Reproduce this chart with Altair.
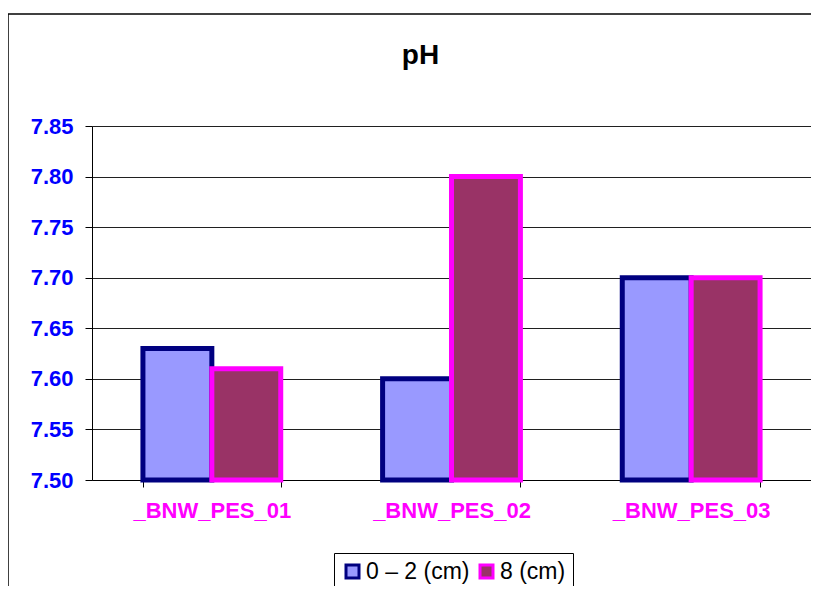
import altair as alt
import pandas as pd

sites = ["_BNW_PES_01", "_BNW_PES_02", "_BNW_PES_03"]
series = ["0 – 2 (cm)", "8 (cm)"]
vals_0_2 = [7.63, 7.60, 7.70]
vals_8 = [7.61, 7.80, 7.70]
y_ticks = [7.50, 7.55, 7.60, 7.65, 7.70, 7.75, 7.80, 7.85]

rows = []
for i, s in enumerate(sites):
    rows.append({"site": s, "series": series[0], "pH": vals_0_2[i]})
    rows.append({"site": s, "series": series[1], "pH": vals_8[i]})
df = pd.DataFrame(rows)

FONT = "Liberation Sans"

bars = alt.Chart(df).mark_bar(strokeWidth=5, strokeJoin="miter").encode(
    x=alt.X("site:N", sort=sites, title=None,
            scale=alt.Scale(paddingInner=0.425, paddingOuter=0.2125),
            axis=alt.Axis(labelAngle=0, labelColor="#FF00FF", labelFont=FONT,
                          labelFontSize=22, labelFontWeight="bold",
                          labelPadding=13, tickBand="extent", tickSize=7,
                          tickColor="black", domainColor="black", grid=False)),
    xOffset=alt.XOffset("series:N", sort=series,
                        scale=alt.Scale(paddingInner=0, paddingOuter=0)),
    y=alt.Y("pH:Q", title=None,
            scale=alt.Scale(domain=[7.5, 7.85], zero=False, nice=False),
            axis=alt.Axis(values=y_ticks, format=".2f", labelColor="#0000FF",
                          labelFont=FONT, labelFontSize=22, labelFontWeight="bold",
                          labelPadding=12, tickSize=7, tickColor="black",
                          domainColor="black", grid=True, gridColor="#202020",
                          gridWidth=1)),
    y2=alt.datum(7.5),
    fill=alt.Color("series:N", sort=series,
                   scale=alt.Scale(domain=series, range=["#9999FF", "#993366"]),
                   legend=alt.Legend(title=None, orient="none", legendX=242, legendY=427,
                                     direction="horizontal", symbolType="square",
                                     symbolSize=169, symbolStrokeWidth=3,
                                     labelFont=FONT, labelFontSize=23, labelColor="black",
                                     strokeColor="black", padding=7, columnPadding=4,
                                     labelOffset=2)),
    stroke=alt.Stroke("series:N", sort=series,
                      scale=alt.Scale(domain=series, range=["#000080", "#FF00FF"]),
                      legend=None),
)

frame_data = alt.Data(values=[{"a": 1}])
left_border = alt.Chart(frame_data).mark_rule(color="black", strokeWidth=1.5).encode(
    x=alt.value(-84), y=alt.value(-112), y2=alt.value(470))
top_border = alt.Chart(frame_data).mark_rule(color="black", strokeWidth=1.5).encode(
    x=alt.value(-84), x2=alt.value(730), y=alt.value(-112))

chart = alt.layer(bars, left_border, top_border).properties(
    width=719, height=354,
    autosize=alt.AutoSizeParams(type="none"),
    padding={"left": 84, "top": 118, "right": 0, "bottom": 106},
    title=alt.TitleParams("pH", font=FONT, fontSize=28, fontWeight="bold",
                          color="black", anchor="middle", dx=-31, dy=57, offset=0),
).configure_view(stroke="#808080", strokeWidth=1.5).configure(background="white")

chart.save("out.html", embed_options={"renderer": "svg", "actions": False})
